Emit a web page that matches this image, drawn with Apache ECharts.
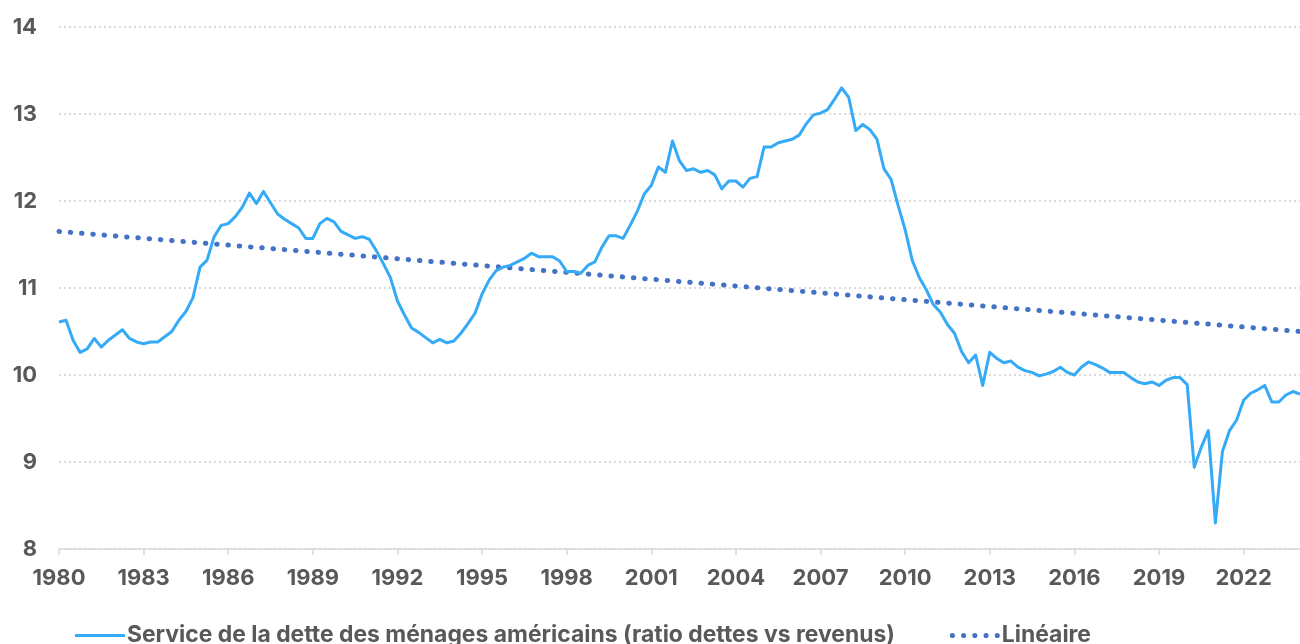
<!DOCTYPE html>
<html>
<head>
<meta charset="utf-8">
<script src="https://cdn.jsdelivr.net/npm/echarts@6/dist/echarts.min.js"></script>
<style>
html,body{margin:0;padding:0;background:#fff;}
#chart{width:1300px;height:644px;}
</style>
</head>
<body>
<div id="chart"></div>
<script>
// Quarterly values, 1980 Q1 onward
const values1980s = [10.61,10.63,10.40,10.26,10.30,10.42,10.32,10.40,10.46,10.52,10.42,10.38,10.36,10.38,10.38,10.44,10.50,10.63,10.73,10.89,11.24,11.32,11.59,11.72,11.74,11.82,11.93,12.09,11.97,12.11,11.98,11.85,11.79,11.74,11.69,11.57,11.57,11.74,11.80,11.76];
const values1990s = [11.65,11.61,11.57,11.59,11.56,11.43,11.28,11.12,10.85,10.69,10.54,10.49,10.43,10.37,10.41,10.37,10.39,10.48,10.59,10.71,10.93,11.09,11.20,11.24,11.26,11.30,11.34,11.40,11.36,11.36,11.36,11.31,11.19,11.19,11.17,11.26,11.30,11.47,11.60,11.60];
const values2000s = [11.57,11.72,11.88,12.08,12.18,12.39,12.33,12.69,12.46,12.35,12.37,12.33,12.35,12.30,12.14,12.23,12.23,12.16,12.26,12.28,12.62,12.62,12.67,12.69,12.71,12.76,12.89,12.99,13.01,13.05,13.17,13.30,13.19,12.81,12.88,12.82,12.71,12.37,12.25,11.95];
const values2010s = [11.67,11.32,11.12,10.98,10.81,10.72,10.58,10.48,10.27,10.14,10.23,9.88,10.26,10.19,10.14,10.16,10.09,10.05,10.03,9.99,10.01,10.04,10.09,10.03,10.00,10.09,10.15,10.12,10.08,10.03,10.03,10.03,9.97,9.92,9.90,9.92,9.88,9.94,9.97,9.97];
const values2020s = [9.89,8.94,9.17,9.36,8.30,9.12,9.36,9.48,9.71,9.79,9.83,9.88,9.69,9.69,9.77,9.81,9.78];
const debtService = values1980s.concat(values1990s, values2000s, values2010s, values2020s);

// Linear trend line end points
const trendStart = 11.65;
const trendEnd = 10.50;

const firstYear = 1980;
const yTicks = [8, 9, 10, 11, 12, 13, 14];
const seriesNames = ['Service de la dette des ménages américains (ratio dettes vs revenus)', 'Linéaire'];

const categories = debtService.map((v, i) => (firstYear + Math.floor(i / 4)) + ' T' + (i % 4 + 1));
const trendData = categories.map((c, i) => i === 0 ? trendStart : (i === categories.length - 1 ? trendEnd : null));

const textColor = '#595959';
const fontFam = 'Inter, "Liberation Sans", Arial, sans-serif';

function dotsPath(n, step, r) {
  let p = '';
  for (let k = 0; k < n; k++) {
    const cx = r + k * step;
    p += 'M' + (cx - r) + ',' + r + ' A' + r + ',' + r + ' 0 1,0 ' + (cx + r) + ',' + r + ' A' + r + ',' + r + ' 0 1,0 ' + (cx - r) + ',' + r + ' Z ';
  }
  return 'path://' + p;
}

const chart = echarts.init(document.getElementById('chart'), null, {renderer: 'canvas'});
chart.setOption({
  animation: false,
  backgroundColor: '#ffffff',
  grid: {left: 59, top: 27, width: 1244, height: 522, containLabel: false},
  legend: {
    left: 70, top: 619,
    itemWidth: 50, itemHeight: 14, itemGap: 55,
    textStyle: {color: textColor, fontSize: 22.9, fontWeight: 'bold', fontFamily: fontFam, padding: [0, 0, 0, -3]},
    data: [
      {name: seriesNames[0], icon: 'path://M0,0 L50,0 L50,3 L0,3 Z', itemStyle: {color: '#35AAF6'}},
      {name: seriesNames[1], icon: dotsPath(5, 11, 2.5), itemStyle: {color: '#4472C4'}}
    ]
  },
  xAxis: {
    type: 'category',
    data: categories,
    boundaryGap: false,
    axisLine: {lineStyle: {color: '#D9D9D9', width: 1.5}},
    axisTick: {show: true, length: 6, lineStyle: {color: '#D9D9D9', width: 1.5}, interval: (i) => i % 12 === 0},
    axisLabel: {
      interval: (i) => i % 12 === 0,
      formatter: (v) => v.split(' ')[0],
      color: textColor, fontSize: 22, fontWeight: 'bold', fontFamily: fontFam, margin: 18
    },
    splitLine: {show: false}
  },
  yAxis: {
    type: 'value',
    min: yTicks[0], max: yTicks[yTicks.length - 1], interval: 1,
    axisLine: {show: false},
    axisTick: {show: false},
    axisLabel: {color: textColor, fontSize: 22, fontWeight: 'bold', fontFamily: fontFam, margin: 22},
    splitLine: {lineStyle: {color: '#D0D0D0', width: 1.5, type: [2, 3]}}
  },
  series: [
    {
      name: seriesNames[0],
      type: 'line',
      data: debtService,
      symbol: 'none',
      lineStyle: {color: '#35AAF6', width: 3, join: 'round'},
      itemStyle: {color: '#35AAF6'},
      z: 3
    },
    {
      name: seriesNames[1],
      type: 'line',
      data: trendData,
      connectNulls: true,
      symbol: 'none',
      lineStyle: {color: '#4472C4', width: 5, type: [0.5, 10.8], cap: 'round'},
      itemStyle: {color: '#4472C4'},
      z: 2
    }
  ]
});
</script>
</body>
</html>
